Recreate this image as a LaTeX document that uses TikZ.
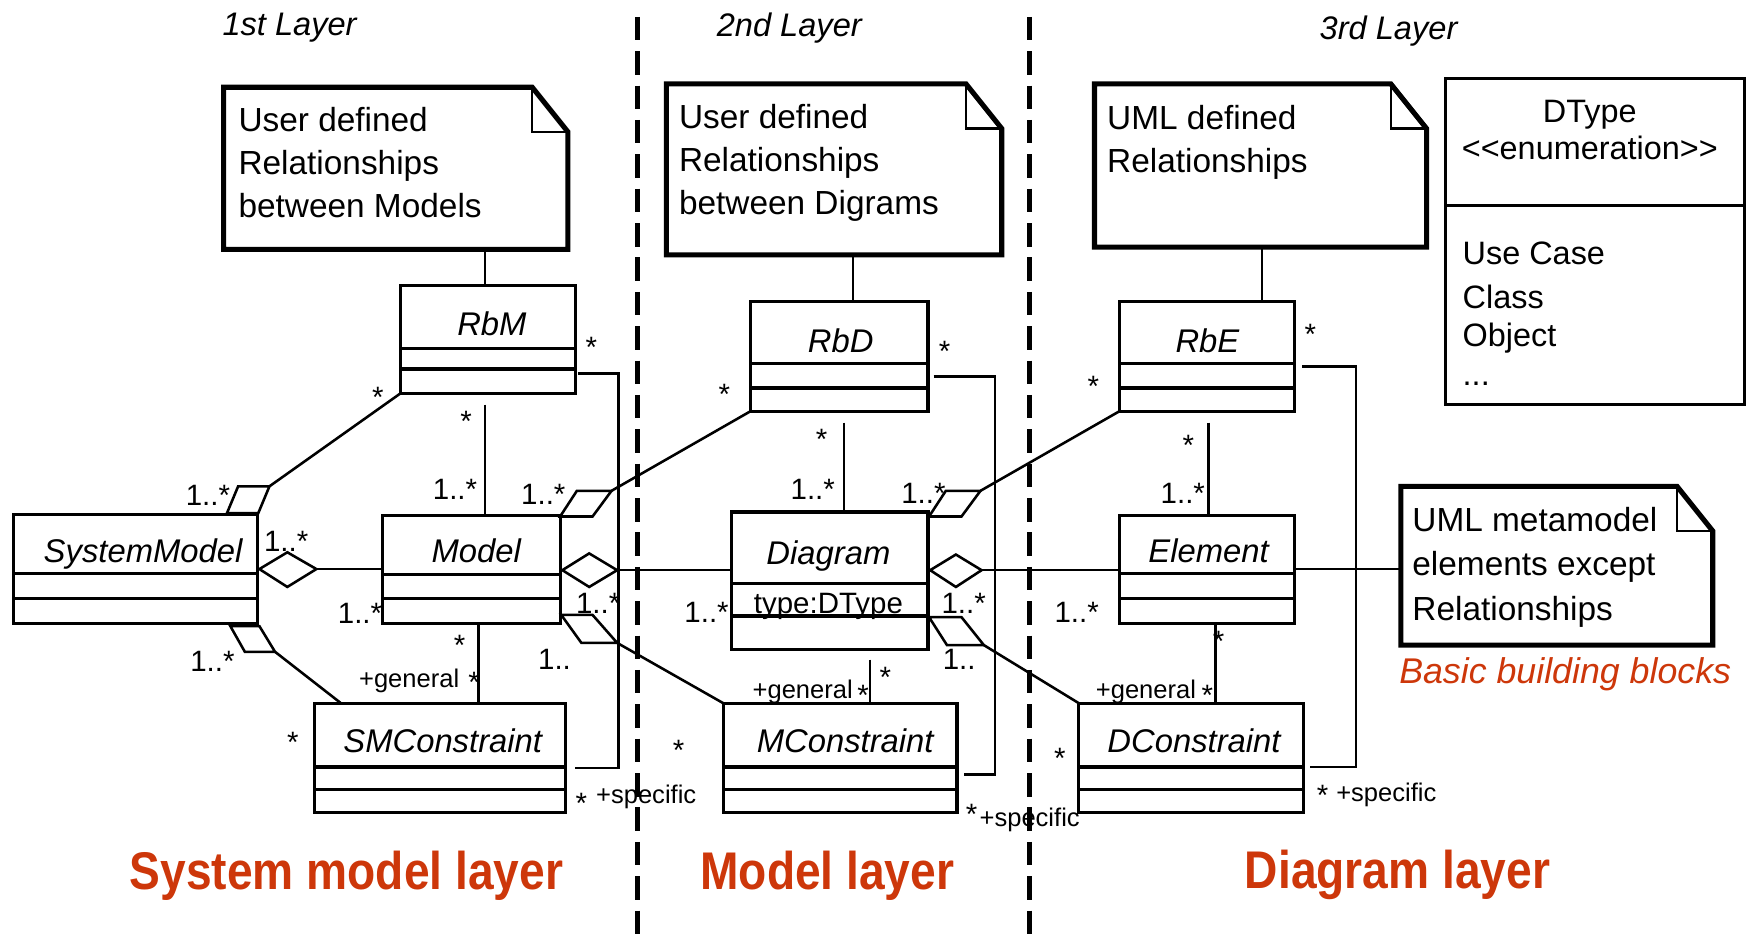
\documentclass[tikz,border=0pt]{standalone}
\usepackage{fontspec}
\usepackage{graphicx}
\setmainfont{Liberation Sans}
\usetikzlibrary{calc,fit}
\definecolor{lred}{RGB}{205,55,10}
\newcommand\umlbox[7]{%
  \node[umlcls, fit={(#2,#3) (#4,#5)}] (#1) {};
  \draw[clsline] (#2,#6) -- (#4,#6) (#2,#7) -- (#4,#7);}
\newcommand\umlnote[5]{%
  \node[notebox, fit={(#2,#3) (#4,#5)}] (#1) {};
  \draw[noteline] (#1.north west) -- ($(#1.north east)+(-32,0)$) -- ($(#1.north east)+(0,40)$) -- (#1.south east) -- (#1.south west) -- cycle;
  \draw[foldline] ($(#1.north east)+(-32,0)$) -- ($(#1.north east)+(-32,40)$) -- ($(#1.north east)+(0,40)$);}
\begin{document}
\begin{tikzpicture}[x=0.02cm, y=-0.02cm,
  umlcls/.style={draw, line width=1.6pt, inner sep=0pt, outer sep=0pt},
  clsline/.style={line width=1.6pt},
  notebox/.style={inner sep=0pt, outer sep=0pt},
  noteline/.style={line width=2.6pt, line join=miter},
  foldline/.style={line width=1.1pt},
  conn/.style={line width=1.3pt},
  divider/.style={line width=2.3pt, dash pattern=on 12pt off 5.5pt},
  notetext/.style={anchor=north west, inner sep=0pt, align=left, font=\fontsize{17}{21.9}\selectfont},
  cname/.style={anchor=base, inner sep=0pt, font=\fontsize{16.7}{20}\selectfont\itshape},
  mult/.style={inner sep=0pt, font=\fontsize{15}{18}\selectfont},
  role/.style={inner sep=0pt, font=\fontsize{13}{16}\selectfont},
  layer/.style={inner sep=0pt, font=\fontsize{16.6}{20}\selectfont\itshape},
  big/.style={inner sep=0pt, text=lred, font=\fontsize{27}{32}\selectfont\bfseries},
  dtext/.style={inner sep=0pt, font=\fontsize{16.5}{20}\selectfont},
]
\useasboundingbox (0,0) rectangle (1568,842);

% layer dividers
\draw[divider] (570,15) -- (570,842);
\draw[divider] (921,15) -- (921,842);

% layer titles
\node[layer] (L1) at (259,25) {1st Layer};
\node[layer] (L2) at (706,25) {2nd Layer};
\node[layer] (L3) at (1242,28) {3rd Layer};

% notes
\umlnote{n1}{200}{78}{508}{223}
\node[notetext] (n1t) at (213,96) {User defined\\Relationships\\between Models};
\umlnote{n2}{596}{75}{896}{228}
\node[notetext] (n2t) at (607,93) {User defined\\Relationships\\between Digrams};
\umlnote{n3}{979}{75}{1276}{221}
\node[notetext] (n3t) at (990,94) {UML defined\\Relationships};
\umlnote{n4}{1253}{435}{1532}{577}
\node[notetext, font=\fontsize{17}{22.8}\selectfont] (n4t) at (1263,453) {UML metamodel\\elements except\\Relationships};
\node[inner sep=0pt, text=lred, font=\fontsize{18.2}{22}\selectfont\itshape] (bb) at (1400,603) {Basic building blocks};

% DType enumeration
\umlbox{DType}{1293}{70}{1560}{362}{184}{184}
\node[dtext, anchor=base] (dt1) at (1422,110) {DType};
\node[dtext, anchor=base] (dt2) at (1422,143) {\mbox{<}\mbox{<}enumeration\mbox{>}\mbox{>}};
\node[dtext, anchor=base west] (dt3) at (1308,237) {Use Case};
\node[dtext, anchor=base west] (dt4) at (1308,276) {Class};
\node[dtext, anchor=base west] (dt5) at (1308,310) {Object};
\node[dtext, anchor=base west] (dt6) at (1308,345) {...};

% classes
\umlbox{RbM}{358}{255}{515}{352}{312}{330}
\umlbox{RbD}{671}{270}{830}{368}{325}{347}
\umlbox{RbE}{1001}{270}{1158}{368}{325}{347}
\umlbox{SystemModel}{12}{460}{230}{558}{513}{535}
\umlbox{Model}{342}{461}{501}{558}{514}{535}
\umlbox{Diagram}{654}{458}{830}{581}{522}{551}
\umlbox{Element}{1001}{461}{1158}{558}{513}{535}
\umlbox{SMConstraint}{281}{629}{506}{727}{686}{706}
\umlbox{MConstraint}{647}{629}{856}{727}{686}{706}
\umlbox{DConstraint}{965}{629}{1166}{727}{686}{706}

\node[cname] (tRbM) at (440,300) {RbM};
\node[cname] (tRbD) at (752,315) {RbD};
\node[cname] (tRbE) at (1080,315) {RbE};
\node[cname] (tSM) at (128,503) {SystemModel};
\node[cname] (tModel) at (426,503) {Model};
\node[cname] (tDiagram) at (741,505) {Diagram};
\node[inner sep=0pt, anchor=base, font=\fontsize{15}{18}\selectfont] (tType) at (741,549) {type:DType};
\node[cname] (tElement) at (1081,503) {Element};
\node[cname] (tSMC) at (396,673) {SMConstraint};
\node[cname] (tMC) at (756,673) {MConstraint};
\node[cname] (tDC) at (1068,673) {DConstraint};

% note links
\draw[conn] ($(RbM.north west)+(76,0)$) coordinate (c1) -- (c1 |- n1.south);
\draw[conn] ($(RbD.north west)+(92,0)$) coordinate (c2) -- (c2 |- n2.south);
\draw[conn] ($(RbE.north west)+(128,0)$) coordinate (c3) -- (c3 |- n3.south);
\draw[conn] ($(Element.north east)+(0,48)$) coordinate (e1) -- (e1 -| n4.west);

% vertical associations
\draw[conn] ($(RbM.south west)+(76,10)$) coordinate (v1) -- (v1 |- Model.north);
\draw[conn] ($(RbD.south west)+(84,10)$) coordinate (v2) -- (v2 |- Diagram.north);
\draw[conn] ($(RbE.south west)+(80,10)$) coordinate (v3) -- (v3 |- Element.north);
\draw[conn] ($(Model.south west)+(86,0)$) coordinate (v4) -- (v4 |- SMConstraint.north);
\draw[conn] ($(Diagram.south west)+(124,9)$) coordinate (v5) -- (v5 |- MConstraint.north);
\draw[conn] ($(Element.south west)+(86,0)$) coordinate (v6) -- (v6 |- DConstraint.north);

% general/specific loops
\draw[conn] ($(RbM.south east)+(2,-18)$) -- ++(36,0) |- ($(SMConstraint.north east)+(8,58)$);
\draw[conn] ($(RbD.south east)+(5,-31)$) -- ++(55,0) |- ($(MConstraint.north east)+(6,64)$);
\draw[conn] ($(RbE.south east)+(7,-40)$) -- ++(48,0) |- ($(DConstraint.north east)+(6,57)$);

% aggregation diamonds
\draw[conn] ($(SystemModel.north east)+(2,49)$) -- ++(25,-15) -- ++(26,15) coordinate (d1) -- ++(-26,16) -- cycle;
\draw[conn] (d1) -- (d1 -| Model.west);
\draw[conn] ($(Model.north east)+(2,49)$) -- ++(24,-15) -- ++(25,15) coordinate (d2) -- ++(-25,15) -- cycle;
\draw[conn] (d2) -- (d2 -| Diagram.west);
\draw[conn] ($(Diagram.north east)+(2,52)$) -- ++(23,-14) -- ++(23,14) coordinate (d3) -- ++(-23,15) -- cycle;
\draw[conn] (d3) -- (d3 -| Element.west);

% skewed aggregation marks
\draw[conn] ($(SystemModel.north east)+(-27,-1)$) -- ++(28,0) -- ++(10,-24) coordinate (p1) -- ++(-28,0) -- cycle;
\draw[conn] (p1) -- (RbM.south west);
\draw[conn] ($(Model.north east)+(0,1)$) -- ++(29,0) -- ++(17,-23) coordinate (p2) -- ++(-31,0) -- cycle;
\draw[conn] (p2) -- (RbD.south west);
\draw[conn] ($(Diagram.north east)+(1,4)$) -- ++(29,0) -- ++(17,-23) coordinate (p3) -- ++(-31,0) -- cycle;
\draw[conn] (p3) -- (RbE.south west);
\draw[conn] ($(SystemModel.south east)+(-24,2)$) -- ++(26,0) -- ++(14,23) coordinate (p4) -- ++(-27,0) -- cycle;
\draw[conn] (p4) -- ($(SMConstraint.north west)+(24,0)$);
\draw[conn] ($(Model.south east)+(1,-8)$) -- ++(28,0) -- ++(22,25) coordinate (p5) -- ++(-32,0) -- cycle;
\draw[conn] (p5) -- (MConstraint.north west);
\draw[conn] ($(Diagram.south east)+(1,-29)$) -- ++(29,0) -- ++(20,25) coordinate (p6) -- ++(-33,0) -- cycle;
\draw[conn] (p6) -- (DConstraint.north west);

% multiplicities and roles
\node[mult] (m1) at (186,443) {1..*};
\node[mult] (m2) at (338,355) {*};
\node[mult] (m3) at (256,484) {1..*};
\node[mult] (m4) at (322,549) {1..*};
\node[mult] (m5) at (190,592) {1..*};
\node[mult] (m6) at (262,664) {*};
\node[mult] (m7) at (417,377) {*};
\node[mult] (m8) at (407,438) {1..*};
\node[mult] (m9) at (529,311) {*};
\node[mult] (m10) at (411,577) {*};
\node[role] (r1) at (366,609) {+general};
\node[mult] (m11) at (424,610) {*};
\node[mult] (m12) at (520,719) {*};
\node[role] (r2) at (578,713) {+specific};
\node[mult] (m13) at (486,442) {1..*};
\node[mult] (m14) at (648,353) {*};
\node[mult] (m15) at (535,540) {1..*};
\node[mult] (m16) at (496,590) {1..};
\node[mult] (m17) at (607,671) {*};
\node[mult] (m18) at (735,393) {*};
\node[mult] (m19) at (727,438) {1..*};
\node[mult] (m20) at (845,314) {*};
\node[mult] (m21) at (826,441) {1..*};
\node[mult] (m22) at (978,346) {*};
\node[mult] (m23) at (632,548) {1..*};
\node[mult] (m24) at (862,540) {1..*};
\node[mult] (m25) at (858,590) {1..};
\node[mult] (m26) at (792,606) {*};
\node[role] (r3) at (718,619) {+general};
\node[mult] (m27) at (772,622) {*};
\node[mult] (m28) at (869,728) {*};
\node[role] (r4) at (921,733) {+specific};
\node[mult] (m29) at (1172,299) {*};
\node[mult] (m30) at (1063,398) {*};
\node[mult] (m31) at (1058,441) {1..*};
\node[mult] (m32) at (963,548) {1..*};
\node[mult] (m33) at (1090,574) {*};
\node[role] (r5) at (1025,619) {+general};
\node[mult] (m34) at (1080,622) {*};
\node[mult] (m35) at (948,678) {*};
\node[mult] (m36) at (1183,711) {*};
\node[role] (r6) at (1240,711) {+specific};

% layer captions
\node[big] (b1) at (310,783) {\scalebox{0.87}[1]{System model layer}};
\node[big] (b2) at (740,783) {\scalebox{0.87}[1]{Model layer}};
\node[big] (b3) at (1250,783) {\scalebox{0.87}[1]{Diagram layer}};
\end{tikzpicture}
\end{document}
